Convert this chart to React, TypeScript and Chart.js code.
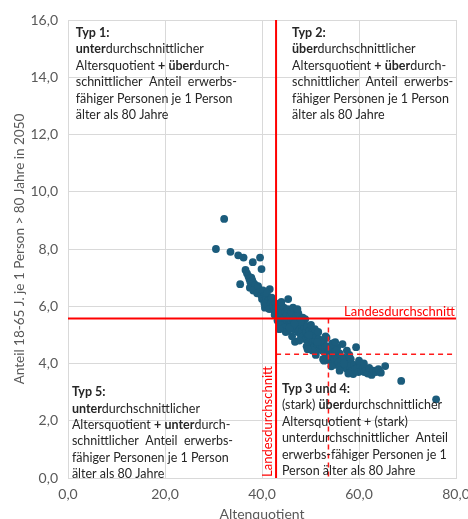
import React, { useEffect, useRef } from "react";
import { Chart, registerables } from "chart.js";

Chart.register(...registerables);

// ---- data ----
const xTickValues = [0, 20, 40, 60, 80];
const yTickValues = [0, 2, 4, 6, 8, 10, 12, 14, 16];

const avgAltenquotient = 42.9; // Landesdurchschnitt (x)
const avgAnteil = 5.57; // Landesdurchschnitt (y)
const strongAltenquotient = 53.7; // "stark" threshold (x)
const strongAnteil = 4.32; // "stark" threshold (y)

const districts: [number, number][] = [
  [32.2, 9.05], [30.5, 8.0], [33.5, 7.9], [35.1, 7.78], [36.2, 7.7], [38.1, 7.54], [39.6, 7.7],
  [39.9, 7.3], [36.6, 7.27], [35.5, 6.77], [37.5, 6.65], [41.6, 6.6], [40.6, 5.95], [45.4, 6.25],
  [36.9, 7.15], [37.2, 7.05], [37.4, 6.95], [37.8, 7.0], [38.0, 6.9], [37.6, 6.85], [38.3, 6.8],
  [38.6, 6.75], [38.9, 6.6], [38.2, 6.55], [39.2, 6.7], [39.5, 6.5], [39.0, 6.45], [39.8, 6.4],
  [40.2, 6.55], [40.4, 6.35], [40.0, 6.25], [40.8, 6.3], [41.0, 6.45], [41.3, 6.2], [41.2, 6.05],
  [40.5, 6.1], [41.8, 6.1], [42.0, 6.3], [41.5, 5.9], [42.3, 6.0], [42.5, 5.85], [42.8, 6.1],
  [43.0, 5.95], [42.6, 5.7],
  [43.3, 5.8], [43.5, 6.05], [43.7, 5.65], [43.9, 5.9], [44.1, 5.75], [44.3, 5.5], [44.5, 5.95],
  [44.6, 5.6], [44.8, 5.8], [45.0, 5.45], [45.1, 5.7], [45.3, 5.9], [45.5, 5.55], [45.6, 5.35],
  [45.8, 5.65], [46.0, 5.5], [46.1, 5.8], [46.3, 5.3], [46.5, 5.55], [46.6, 5.2], [46.8, 4.76],
  [46.9, 5.45], [47.0, 5.65], [47.2, 5.3], [47.4, 5.1], [47.5, 5.75], [47.6, 5.4], [47.8, 5.2],
  [43.2, 5.5], [43.8, 5.35], [44.7, 5.25], [45.4, 5.15],
  [48.0, 5.0], [48.1, 5.35], [48.3, 5.15], [48.5, 4.95], [48.6, 5.45], [48.8, 5.25], [49.0, 4.85],
  [49.1, 5.1], [49.3, 5.3], [49.5, 4.95], [49.6, 4.75], [49.8, 5.15], [50.0, 4.9], [50.2, 5.05],
  [50.3, 4.7], [50.5, 4.85], [50.7, 5.0], [50.8, 4.6], [51.0, 4.8], [51.2, 4.95], [51.3, 4.55],
  [51.5, 4.7], [51.7, 4.85], [51.9, 4.5], [52.0, 4.65], [52.2, 4.8], [52.4, 4.45], [52.5, 4.6],
  [49.2, 4.6], [50.4, 4.45], [48.9, 5.55], [50.9, 5.2],
  [52.7, 4.75], [52.9, 4.4], [53.0, 4.55], [53.2, 4.3], [53.4, 4.6], [53.5, 4.2], [53.7, 4.45],
  [53.9, 4.35], [54.0, 4.1], [54.2, 4.5], [54.4, 4.25], [54.6, 4.0], [54.8, 4.4], [55.0, 4.15],
  [55.2, 4.3], [55.4, 3.95], [55.6, 4.2], [55.8, 4.05], [56.0, 4.35], [56.2, 3.9], [56.4, 4.1],
  [56.6, 4.68], [56.7, 3.95], [57.0, 4.2], [57.2, 3.85], [53.3, 4.9], [54.5, 4.7], [55.5, 4.55],
  [52.8, 4.1],
  [57.4, 4.05], [57.6, 3.8], [57.9, 4.0], [58.1, 3.9], [58.3, 4.15], [58.5, 3.75], [58.8, 3.63],
  [59.0, 3.95], [59.4, 4.57], [59.2, 3.8], [59.6, 3.85], [59.9, 3.7], [60.2, 3.95], [60.5, 3.75],
  [60.8, 3.85], [61.1, 3.7], [61.4, 3.8], [61.8, 3.65], [62.1, 3.85], [62.6, 3.6], [63.0, 3.75],
  [63.5, 3.7], [64.0, 3.8], [64.5, 3.68], [65.4, 3.91], [68.7, 3.39], [75.9, 2.75], [60.0, 4.1],
  [61.0, 4.0], [58.0, 4.3],
  [44.0, 6.15], [46.4, 5.95], [48.4, 5.6], [50.1, 5.35], [51.6, 5.1], [53.1, 4.95], [55.1, 4.75],
  [57.5, 4.45], [47.3, 5.9], [44.9, 5.1], [46.2, 4.95], [47.7, 4.8], [49.4, 4.5], [51.1, 4.3],
  [52.6, 4.15], [54.3, 3.9], [56.0, 3.75], [57.8, 3.65], [43.6, 5.2], [45.7, 5.25], [47.9, 5.45],
  [49.7, 5.0], [51.4, 4.75], [53.6, 4.35], [55.3, 4.45], [56.9, 4.0], [46.7, 5.4],
];

const xTitle = "Altenquotient";
const yTitle = "Anteil 18-65 J. je 1 Person > 80 Jahre in 2050";
const avgLabel = "Landesdurchschnitt";

type Seg = [string, boolean];
type Note = { x: number; y: number; lines: Seg[][] };

const notes: Note[] = [
  {
    x: 1.6, y: 15.55,
    lines: [
      [["Typ 1:", true]],
      [["unter", true], ["durchschnittlicher", false]],
      [["Altersquotient ", false], ["+", true], [" ", false], ["über", true], ["durch-", false]],
      [["schnittlicher  Anteil  erwerbs-", false]],
      [["fähiger Personen je 1 Person", false]],
      [["älter als 80 Jahre", false]],
    ],
  },
  {
    x: 46.2, y: 15.55,
    lines: [
      [["Typ 2:", true]],
      [["über", true], ["durchschnittlicher", false]],
      [["Altersquotient ", false], ["+", true], [" ", false], ["über", true], ["durch-", false]],
      [["schnittlicher  Anteil  erwerbs-", false]],
      [["fähiger Personen je 1 Person", false]],
      [["älter als 80 Jahre", false]],
    ],
  },
  {
    x: 0.8, y: 3.0,
    lines: [
      [["Typ 5:", true]],
      [["unter", true], ["durchschnittlicher", false]],
      [["Altersquotient ", false], ["+", true], [" ", false], ["unter", true], ["durch-", false]],
      [["schnittlicher  Anteil  erwerbs-", false]],
      [["fähiger Personen je 1 Person", false]],
      [["älter als 80 Jahre", false]],
    ],
  },
  {
    x: 44.1, y: 3.11,
    lines: [
      [["Typ 3 und 4:", true]],
      [["(stark) ", false], ["über", true], ["durchschnittlicher", false]],
      [["Altersquotient + (stark)", false]],
      [["unterdurchschnittlicher  Anteil", false]],
      [["erwerbs-fähiger Personen je 1", false]],
      [["Person älter als 80 Jahre", false]],
    ],
  },
];

const FONT = "Lato, 'Noto Sans', sans-serif";
const fmt = (v: number) => v.toFixed(1).replace(".", ",");

const overlayPlugin = {
  id: "overlay",
  afterDatasetsDraw(chart: any) {
    const { ctx, chartArea: a, scales } = chart;
    const xs = scales.x, ys = scales.y;
    const px = (v: number) => xs.getPixelForValue(v);
    const py = (v: number) => ys.getPixelForValue(v);
    ctx.save();
    // dashed "stark" lines
    ctx.strokeStyle = "#ff1a1a";
    ctx.lineWidth = 1.5;
    ctx.setLineDash([5, 4]);
    ctx.beginPath();
    ctx.moveTo(px(strongAltenquotient), py(avgAnteil));
    ctx.lineTo(px(strongAltenquotient), a.bottom);
    ctx.moveTo(px(avgAltenquotient), py(strongAnteil));
    ctx.lineTo(a.right, py(strongAnteil));
    ctx.stroke();
    // solid average lines
    ctx.setLineDash([]);
    ctx.lineWidth = 2;
    ctx.strokeStyle = "#ff0000";
    ctx.beginPath();
    ctx.moveTo(px(avgAltenquotient), a.top);
    ctx.lineTo(px(avgAltenquotient), a.bottom);
    ctx.moveTo(a.left, py(avgAnteil));
    ctx.lineTo(a.right, py(avgAnteil));
    ctx.stroke();
    // labels
    ctx.fillStyle = "#ff0000";
    ctx.font = `13px ${FONT}`;
    ctx.textAlign = "right";
    ctx.textBaseline = "alphabetic";
    ctx.fillText(avgLabel, a.right - 1, py(avgAnteil) - 3);
    ctx.save();
    ctx.translate(px(avgAltenquotient) - 4, a.bottom - 1);
    ctx.rotate(-Math.PI / 2);
    ctx.textAlign = "left";
    ctx.fillText(avgLabel, 0, 0);
    ctx.restore();
    ctx.restore();
  },
  afterDraw(chart: any) {
    const { ctx, scales } = chart;
    const size = 12.5;
    const lh = 16.4;
    ctx.save();
    ctx.fillStyle = "#262626";
    ctx.textBaseline = "middle";
    ctx.textAlign = "left";
    for (const n of notes) {
      const x0 = scales.x.getPixelForValue(n.x);
      const y0 = scales.y.getPixelForValue(n.y);
      n.lines.forEach((line, i) => {
        let x = x0;
        for (const [t, b] of line) {
          ctx.font = `${b ? "bold " : ""}${size}px ${FONT}`;
          ctx.fillText(t, x, y0 + i * lh);
          x += ctx.measureText(t).width;
        }
      });
    }
    ctx.restore();
  },
};

export default function App() {
  const ref = useRef<HTMLCanvasElement>(null);
  useEffect(() => {
    if (!ref.current) return;
    const chart = new Chart(ref.current, {
      type: "scatter",
      data: {
        datasets: [
          {
            data: districts.map(([x, y]) => ({ x, y })),
            backgroundColor: "#1b5c7c",
            borderColor: "#1b5c7c",
            borderWidth: 0,
            pointRadius: 3.9,
            pointHoverRadius: 3.9,
          },
        ],
      },
      options: {
        animation: false,
        responsive: false,
        devicePixelRatio: 1,
        layout: { padding: { left: 0, top: 20, right: 24, bottom: 0 } },
        plugins: { legend: { display: false }, tooltip: { enabled: false } },
        scales: {
          x: {
            type: "linear",
            min: 0,
            max: 80,
            afterBuildTicks: (s: any) => { s.ticks = xTickValues.map((v) => ({ value: v })); },
            afterFit: (s: any) => { s.height = 52; },
            grid: { color: "#d9d9d9", lineWidth: 1, drawTicks: false },
            border: { color: "#d9d9d9" },
            ticks: { color: "#595959", font: { family: FONT, size: 14 }, padding: 8, callback: (v: any) => fmt(Number(v)) },
            title: { display: true, text: xTitle, color: "#595959", font: { family: FONT, size: 14 }, padding: { top: 0, bottom: 7 } },
          },
          y: {
            type: "linear",
            min: 0,
            max: 16,
            afterBuildTicks: (s: any) => { s.ticks = yTickValues.map((v) => ({ value: v })); },
            afterFit: (s: any) => { s.width = 68; },
            grid: { color: "#d9d9d9", lineWidth: 1, drawTicks: false },
            border: { color: "#d9d9d9" },
            ticks: { color: "#595959", font: { family: FONT, size: 14 }, padding: 10, callback: (v: any) => fmt(Number(v)) },
            title: { display: true, text: yTitle, color: "#595959", font: { family: FONT, size: 13.5 }, padding: { top: 12, bottom: 0 } },
          },
        },
      },
      plugins: [overlayPlugin],
    });
    return () => chart.destroy();
  }, []);
  return (
    <div style={{ position: "fixed", left: 0, top: 0, width: 468, height: 519, overflow: "hidden", background: "#fff" }}>
      <canvas ref={ref} width={480} height={530} style={{ display: "block" }} />
    </div>
  );
}
